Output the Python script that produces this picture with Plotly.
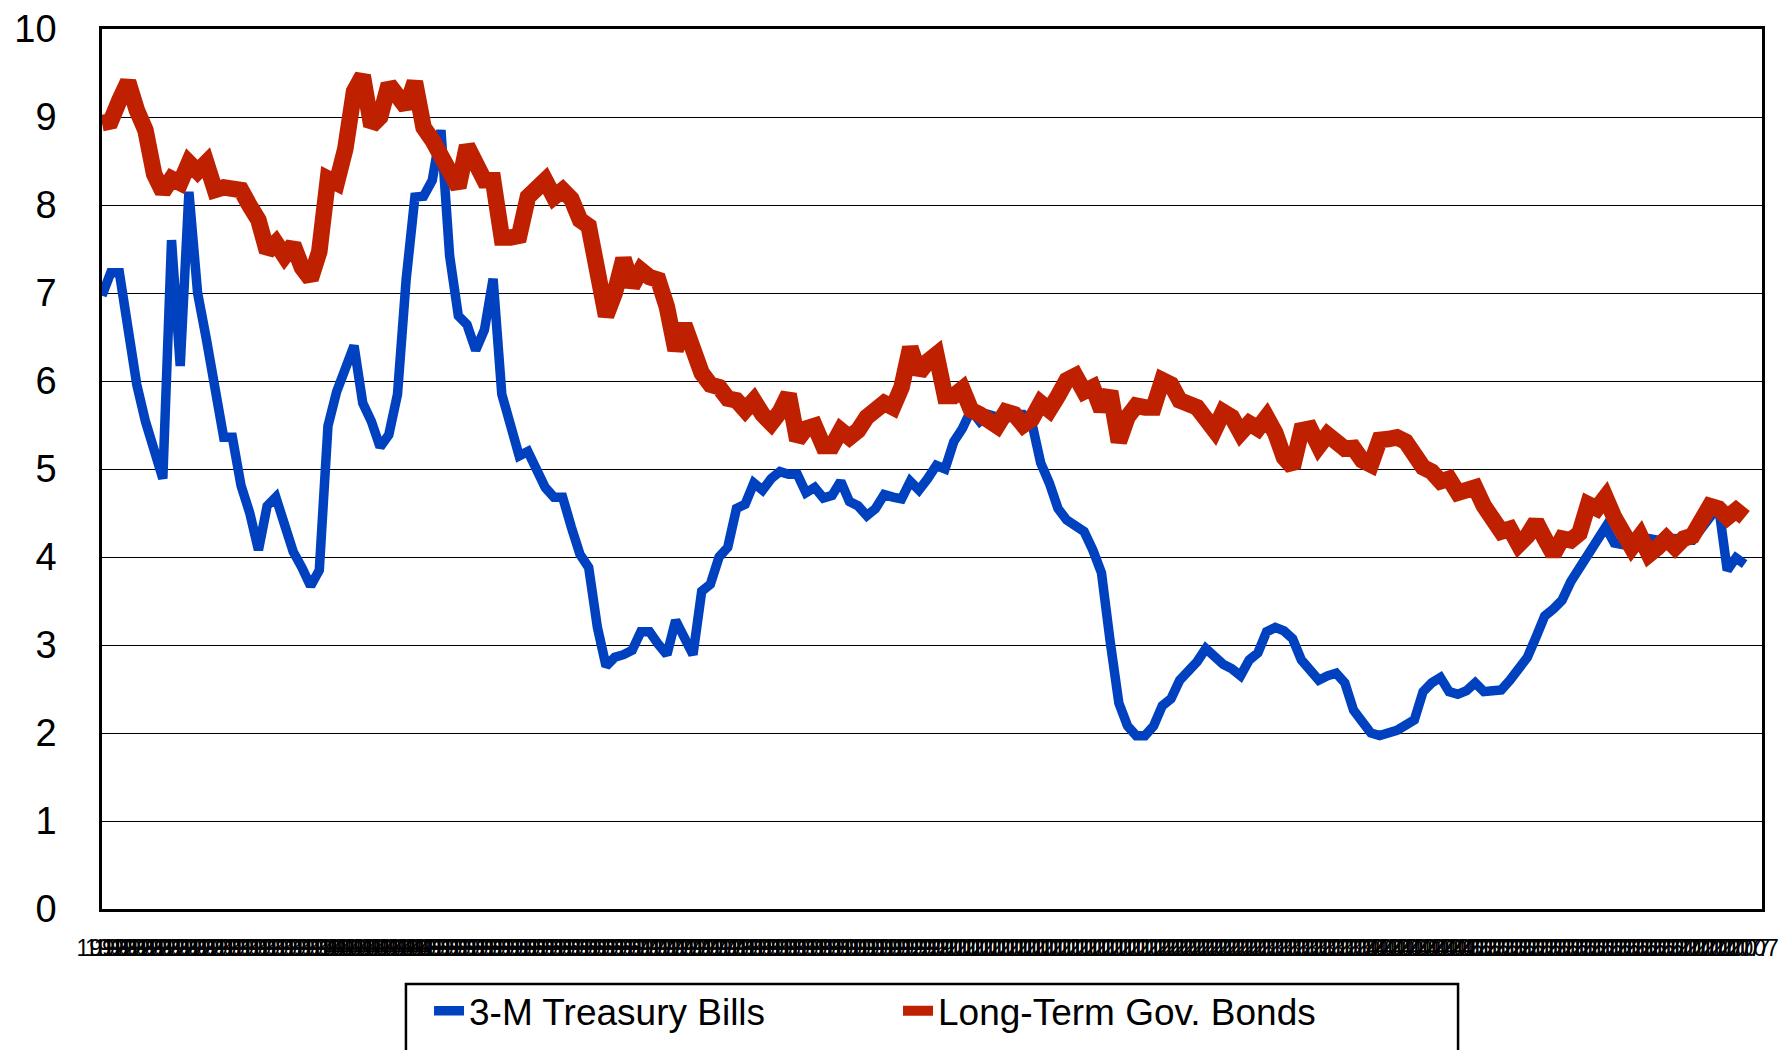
import plotly.graph_objects as go

# monthly categories, labelled by year (Jan 1992 - Nov 2007)
years = [str(y) for y in range(1992, 2008)]
month_labels = [y for y in years for _ in range(12)][:191]

tbills = [
    6.97, 7.23, 7.23, 6.58, 5.96, 5.54, 5.23, 4.89, 7.60, 6.17,
    8.15, 7.00, 6.48, 5.91, 5.36, 5.36, 4.81, 4.50, 4.08, 4.58,
    4.68, 4.37, 4.06, 3.88, 3.67, 3.85, 5.49, 5.88, 6.17, 6.40,
    5.75, 5.54, 5.25, 5.39, 5.85, 7.16, 8.09, 8.10, 8.28, 8.85,
    7.42, 6.74, 6.64, 6.35, 6.58, 7.16, 5.85, 5.54, 5.15, 5.20,
    5.02, 4.79, 4.68, 4.68, 4.34, 4.03, 3.88, 3.20, 2.76, 2.86,
    2.89, 2.94, 3.15, 3.15, 3.01, 2.89, 3.28, 3.09, 2.89, 3.61,
    3.69, 4.00, 4.11, 4.55, 4.60, 4.84, 4.76, 4.89, 4.97, 4.94,
    4.94, 4.73, 4.79, 4.67, 4.70, 4.86, 4.63, 4.58, 4.47, 4.55,
    4.71, 4.68, 4.66, 4.86, 4.76, 4.89, 5.04, 5.00, 5.31, 5.46,
    5.67, 5.54, 5.62, 5.59, 5.57, 5.62, 5.62, 5.52, 5.07, 4.84,
    4.55, 4.42, 4.34, 4.29, 4.08, 3.82, 3.04, 2.34, 2.08, 1.97,
    1.97, 2.08, 2.31, 2.39, 2.60, 2.70, 2.81, 2.96, 2.85, 2.78,
    2.73, 2.65, 2.83, 2.91, 3.15, 3.20, 3.16, 3.07, 2.83, 2.73,
    2.60, 2.65, 2.68, 2.57, 2.26, 2.13, 2.00, 1.97, 2.00, 2.03,
    2.09, 2.15, 2.47, 2.57, 2.63, 2.47, 2.44, 2.48, 2.57, 2.47,
    2.48, 2.49, 2.60, 2.73, 2.86, 3.09, 3.33, 3.41, 3.51, 3.72,
    3.88, 4.06, 4.21, 4.34, 4.16, 4.14, 4.16, 4.18, 4.21, 4.19,
    4.20, 4.21, 4.19, 4.19, 4.32, 4.45, 4.58, 3.85, 3.99, 3.92,
]

bonds = [
    8.93, 8.95, 9.19, 9.40, 9.08, 8.85, 8.35, 8.15, 8.30, 8.25,
    8.48, 8.38, 8.48, 8.17, 8.20, 8.17, 8.17, 7.99, 7.83, 7.47,
    7.57, 7.42, 7.55, 7.29, 7.16, 7.47, 8.30, 8.25, 8.64, 9.29,
    9.47, 8.90, 9.00, 9.37, 9.24, 9.11, 9.40, 8.88, 8.74, 8.54,
    8.30, 8.20, 8.67, 8.43, 8.28, 8.28, 7.63, 7.63, 7.65, 8.09,
    8.17, 8.28, 8.09, 8.17, 8.07, 7.83, 7.76, 7.10, 6.74, 7.00,
    7.39, 7.08, 7.26, 7.18, 7.15, 6.84, 6.35, 6.64, 6.32, 6.09,
    5.96, 5.93, 5.80, 5.78, 5.67, 5.78, 5.62, 5.52, 5.65, 5.85,
    5.33, 5.46, 5.49, 5.26, 5.26, 5.44, 5.36, 5.44, 5.59, 5.65,
    5.75, 5.70, 5.93, 6.38, 6.09, 6.22, 6.30, 5.83, 5.83, 5.91,
    5.67, 5.62, 5.57, 5.49, 5.65, 5.62, 5.50, 5.57, 5.75, 5.67,
    5.83, 6.01, 6.06, 5.88, 5.93, 5.67, 5.88, 5.31, 5.59, 5.72,
    5.70, 5.70, 6.01, 5.96, 5.78, 5.72, 5.70, 5.57, 5.44, 5.65,
    5.59, 5.41, 5.52, 5.46, 5.59, 5.41, 5.13, 5.02, 5.44, 5.46,
    5.26, 5.39, 5.31, 5.23, 5.24, 5.10, 5.05, 5.33, 5.34, 5.36,
    5.31, 5.15, 5.02, 4.97, 4.86, 4.89, 4.73, 4.76, 4.79, 4.58,
    4.46, 4.29, 4.32, 4.14, 4.24, 4.40, 4.21, 4.03, 4.21, 4.19,
    4.27, 4.60, 4.55, 4.68, 4.45, 4.24, 4.11, 4.24, 4.03, 4.11,
    4.21, 4.11, 4.21, 4.24, 4.40, 4.58, 4.55, 4.45, 4.53, 4.45,
]

idx = list(range(len(month_labels)))

fig = go.Figure()
fig.add_trace(go.Scatter(x=idx[:len(tbills)], y=tbills, mode="lines",
                         name="3-M Treasury Bills",
                         line=dict(color="#0041C0", width=9.5)))
fig.add_trace(go.Scatter(x=idx[:len(bonds)], y=bonds, mode="lines",
                         name="Long-Term Gov. Bonds",
                         line=dict(color="#BF2000", width=16.5)))

# legend frame (runs off the bottom of the page as in the original)
fig.add_shape(type="rect", xref="paper", yref="paper",
              x0=0.1831, x1=0.8169, y0=-0.25, y1=-0.0852,
              line=dict(color="black", width=2.5), fillcolor="rgba(0,0,0,0)")

fig.update_layout(
    width=1789, height=1050,
    margin=dict(l=94, r=35, t=21, b=149, autoexpand=False),
    plot_bgcolor="white", paper_bgcolor="white",
    font=dict(family="Liberation Sans, Arial", color="black"),
    legend=dict(orientation="h", x=0.197, y=-0.081, xanchor="left", yanchor="top",
                borderwidth=0, entrywidth=424, bgcolor="rgba(0,0,0,0)",
                font=dict(size=37, family="Liberation Sans, Arial")),
)
fig.update_xaxes(
    range=[0, 191.0], tickmode="array", tickvals=idx, ticktext=month_labels,
    tickangle=0, showgrid=False, zeroline=False,
    showline=True, linecolor="black", linewidth=2.5, mirror=True,
    ticks="", ticklabelstandoff=17,
    tickfont=dict(size=23),
)
fig.update_yaxes(
    range=[0, 10], dtick=1, showgrid=True, gridcolor="black", gridwidth=1,
    zeroline=False, showline=True, linecolor="black", linewidth=2.5, mirror=True,
    ticks="", ticklabelstandoff=35, tickfont=dict(size=38),
)

fig.write_html("out.html")
